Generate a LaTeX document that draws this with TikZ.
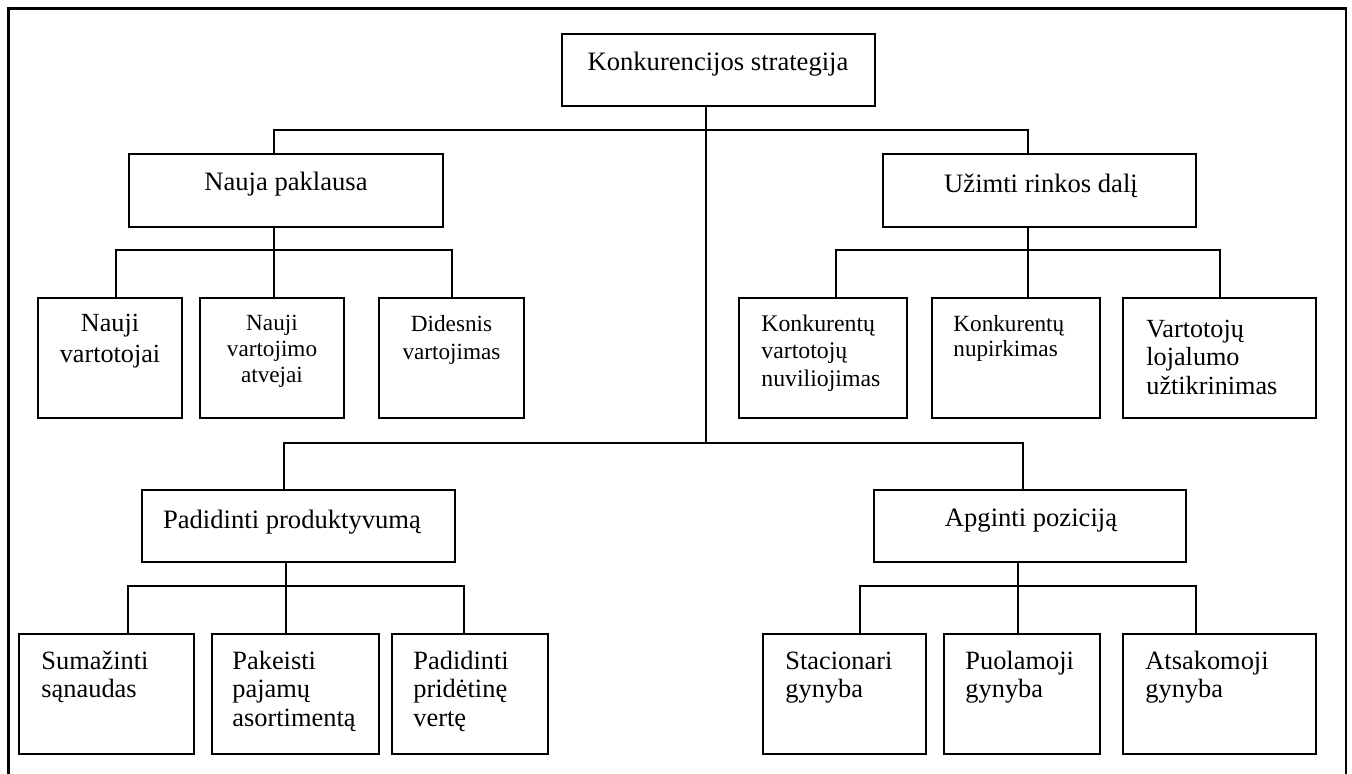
\documentclass[tikz,border=0pt]{standalone}
\usepackage{fontspec}
\setmainfont{Liberation Serif}
\usetikzlibrary{fit}

% font sizes used in the chart
\newcommand{\fbig}{\fontsize{13.3pt}{15.5pt}\selectfont}
\newcommand{\fsmall}{\fontsize{11.6pt}{13.2pt}\selectfont}

\begin{document}
\begin{tikzpicture}[x=0.5pt, y=-0.5pt,
  box/.style={draw, line width=0.85pt, inner sep=0pt},
  link/.style={line width=0.85pt},
  lbl/.style={inner sep=0pt, anchor=base, font=\fbig},
  lbll/.style={inner sep=0pt, anchor=base west, font=\fbig},
]
\useasboundingbox (0,0) rectangle (1352,773);

% outer frame (open at the bottom edge)
\draw[line width=1.35pt] (8.7,800) -- (8.7,8.7) -- (1346,8.7) -- (1346,800);

% ---- boxes ----
\node[box, fit={(561.7,34) (875,106)}]   (root) {};
\node[box, fit={(129,154) (443,227)}]    (np) {};
\node[box, fit={(883,154) (1196,227)}]   (ur) {};
\node[box, fit={(38,298) (182,418)}]     (nv1) {};
\node[box, fit={(200,298) (344,418)}]    (nv2) {};
\node[box, fit={(379,298) (524,418)}]    (dv) {};
\node[box, fit={(739,298) (907,418)}]    (kvn) {};
\node[box, fit={(932,298) (1100,418)}]   (knp) {};
\node[box, fit={(1123,298) (1316,418)}]  (vlu) {};
\node[box, fit={(142,490) (455,562)}]    (pp) {};
\node[box, fit={(874,490) (1186,562)}]   (ap) {};
\node[box, fit={(19,634) (194,754)}]     (ss) {};
\node[box, fit={(212,634) (379,754)}]    (ppa) {};
\node[box, fit={(392,634) (548,754)}]    (ppv) {};
\node[box, fit={(763,634) (926,754)}]    (sg) {};
\node[box, fit={(944,634) (1100,754)}]   (pg) {};
\node[box, fit={(1123,634) (1316,754)}]  (ag) {};

% ---- bus junctions ----
\coordinate (t1) at (706,130);
\coordinate (t2) at (706,443);
\coordinate (j-np) at (274,130);
\coordinate (j-ur) at (1028,130);
\coordinate (j-pp) at (284,443);
\coordinate (j-ap) at (1023,443);
\coordinate (b-np) at (274,250);
\coordinate (d-nv1) at (116,250);
\coordinate (d-dv) at (452,250);
\coordinate (b-ur) at (1028,250);
\coordinate (d-kvn) at (836,250);
\coordinate (d-vlu) at (1220,250);
\coordinate (b-pp) at (286,586);
\coordinate (d-ss) at (128,586);
\coordinate (d-ppv) at (464,586);
\coordinate (b-ap) at (1018,586);
\coordinate (d-sg) at (860,586);
\coordinate (d-ag) at (1196,586);

% ---- connectors ----
\draw[link] (root.south -| t1) -- (t2);
\draw[link] (np.north -| j-np) |- (t1) -| (ur.north -| j-ur);
\draw[link] (pp.north -| j-pp) |- (t2) -| (ap.north -| j-ap);

\draw[link] (np.south -| b-np) -- (nv2.north -| b-np);
\draw[link] (nv1.north -| d-nv1) |- (b-np) -| (dv.north -| d-dv);

\draw[link] (ur.south -| b-ur) -- (knp.north -| b-ur);
\draw[link] (kvn.north -| d-kvn) |- (b-ur) -| (vlu.north -| d-vlu);

\draw[link] (pp.south -| b-pp) -- (ppa.north -| b-pp);
\draw[link] (ss.north -| d-ss) |- (b-pp) -| (ppv.north -| d-ppv);

\draw[link] (ap.south -| b-ap) -- (pg.north -| b-ap);
\draw[link] (sg.north -| d-sg) |- (b-ap) -| (ag.north -| d-ag);

% ---- texts ----
\node[lbl] (root-t) at (718,70.7) {Konkurencijos strategija};
\node[lbl] (np-t) at (286,190) {Nauja paklausa};
\node[lbl] (ur-t) at (1041,192.5) {Užimti rinkos dalį};
\node[lbl] (pp-t) at (292,528) {Padidinti produktyvumą};
\node[lbl] (ap-t) at (1031,526) {Apginti poziciją};

\node[lbl, font=\fontsize{13.1pt}{15.8pt}\selectfont] (nv1-t) at (110,331)
  {\parbox[t]{72pt}{\centering Nauji\\vartotojai}};
\node[lbl, font=\fsmall] (nv2-t) at (272,330)
  {\parbox[t]{72pt}{\centering Nauji\\vartojimo\\atvejai}};
\node[lbl, font=\fontsize{11.6pt}{14pt}\selectfont] (dv-t) at (451.5,331)
  {\parbox[t]{72pt}{\centering Didesnis\\vartojimas}};

\node[lbll, font=\fontsize{11.9pt}{13.6pt}\selectfont] (kvn-t) at (761,331.7)
  {\parbox[t]{75pt}{\raggedright Konkurentų\\vartotojų\\nuviliojimas}};
\node[lbll, font=\fontsize{11.6pt}{12.6pt}\selectfont] (knp-t) at (953,331.7)
  {\parbox[t]{75pt}{\raggedright Konkurentų\\nupirkimas}};
\node[lbll, font=\fontsize{13.1pt}{14.3pt}\selectfont] (vlu-t) at (1146,337)
  {\parbox[t]{80pt}{\raggedright Vartotojų\\lojalumo\\užtikrinimas}};

\node[lbll, font=\fontsize{13.2pt}{14.4pt}\selectfont] (ss-t) at (41,669)
  {\parbox[t]{75pt}{\raggedright Sumažinti\\sąnaudas}};
\node[lbll, font=\fontsize{13.2pt}{14.4pt}\selectfont] (ppa-t) at (232,669)
  {\parbox[t]{75pt}{\raggedright Pakeisti\\pajamų\\asortimentą}};
\node[lbll, font=\fontsize{13.2pt}{14.4pt}\selectfont] (ppv-t) at (413,669)
  {\parbox[t]{75pt}{\raggedright Padidinti\\pridėtinę\\vertę}};
\node[lbll, font=\fontsize{13.2pt}{14.4pt}\selectfont] (sg-t) at (785,669)
  {\parbox[t]{75pt}{\raggedright Stacionari\\gynyba}};
\node[lbll, font=\fontsize{13.2pt}{14.4pt}\selectfont] (pg-t) at (965,669)
  {\parbox[t]{75pt}{\raggedright Puolamoji\\gynyba}};
\node[lbll, font=\fontsize{13.2pt}{14.4pt}\selectfont] (ag-t) at (1145,669)
  {\parbox[t]{75pt}{\raggedright Atsakomoji\\gynyba}};
\end{tikzpicture}
\end{document}
